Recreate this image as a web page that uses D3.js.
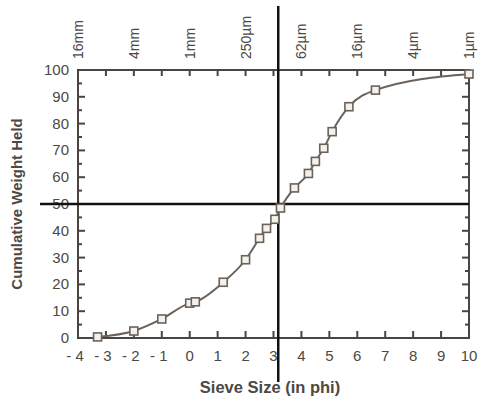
<!DOCTYPE html>
<html>
<head>
    <script src="https://d3js.org/d3.v7.min.js"></script>
    <style>
        body { margin: 0; background: #fff; }
        text { font-family: "Liberation Sans", Arial, sans-serif; fill: #4d4843; }
    </style>
</head>
<body>
    <script>
        // sieve data
        var phi = [-3.3, -2.0, -1.0, 0.0, 0.2, 1.2, 2.0, 2.5, 2.75, 3.05, 3.25, 3.75, 4.25, 4.5, 4.8, 5.1, 5.7, 6.65, 10];
        var weight = [0.4, 2.6, 7.1, 13, 13.5, 20.8, 29.2, 37.2, 40.9, 44.3, 48.5, 56, 61.4, 65.9, 70.8, 77, 86.3, 92.5, 98.5];
        var xTicks = [-4, -3, -2, -1, 0, 1, 2, 3, 4, 5, 6, 7, 8, 9, 10];
        var yTicks = [0, 10, 20, 30, 40, 50, 60, 70, 80, 90, 100];
        var sizeTicks = [-4, -2, 0, 2, 4, 6, 8, 10];
        var sizeLabels = ["16mm", "4mm", "1mm", "250µm", "62µm", "16µm", "4µm", "1µm"];
        var medianPhi = 3.17;

        var width = 481, height = 397;
        var plotL = 78, plotR = 469, plotT = 70, plotB = 338;
        var axisColor = "#4a4540";

        var svg = d3.select("body").append("svg")
            .attr("width", width)
            .attr("height", height);

        var x = d3.scaleLinear().domain([-4, 10]).range([plotL, plotR]);
        var y = d3.scaleLinear().domain([0, 100]).range([plotB, plotT]);

        // frame
        svg.append("rect")
            .attr("x", plotL).attr("y", plotT)
            .attr("width", plotR - plotL).attr("height", plotB - plotT)
            .attr("fill", "none").attr("stroke", axisColor).attr("stroke-width", 2);

        // bottom ticks (pointing inward)
        svg.selectAll(".bt").data(xTicks.slice(1, -1)).enter().append("line")
            .attr("x1", d => x(d)).attr("x2", d => x(d))
            .attr("y1", plotB).attr("y2", plotB - 7)
            .attr("stroke", axisColor).attr("stroke-width", 2);
        // top ticks
        svg.selectAll(".tt").data(xTicks.slice(1, -1)).enter().append("line")
            .attr("x1", d => x(d)).attr("x2", d => x(d))
            .attr("y1", plotT).attr("y2", plotT + 6)
            .attr("stroke", axisColor).attr("stroke-width", 2);

        var yAll = d3.range(5, 100, 5);
        svg.selectAll(".lt").data(yAll).enter().append("line")
            .attr("x1", plotL).attr("x2", d => plotL + (d % 10 === 0 ? 7 : 4))
            .attr("y1", d => y(d)).attr("y2", d => y(d))
            .attr("stroke", axisColor).attr("stroke-width", 2);
        svg.selectAll(".rt").data(yAll).enter().append("line")
            .attr("x1", plotR).attr("x2", d => plotR - (d % 10 === 0 ? 7 : 4))
            .attr("y1", d => y(d)).attr("y2", d => y(d))
            .attr("stroke", axisColor).attr("stroke-width", 2);

        // tick labels
        svg.selectAll(".yl").data(yTicks).enter().append("text")
            .attr("x", plotL - 9).attr("y", d => y(d) + 5)
            .attr("text-anchor", "end").style("font-size", "15px")
            .text(d => d);
        svg.selectAll(".xl").data(xTicks).enter().append("text")
            .attr("x", d => x(d) + (d < 0 ? -3 : 0)).attr("y", 361)
            .attr("text-anchor", "middle").style("font-size", "15px")
            .text(d => d < 0 ? "- " + Math.abs(d) : d);
        svg.selectAll(".sl").data(sizeTicks).enter().append("text")
            .attr("transform", d => "translate(" + (x(d) + 5) + ",59) rotate(-90)")
            .style("font-size", "14px")
            .text((d, i) => sizeLabels[i]);

        // axis titles
        svg.append("text")
            .attr("transform", "translate(22," + y(50) + ") rotate(-90)")
            .attr("text-anchor", "middle")
            .style("font-size", "15px").style("font-weight", "bold")
            .text("Cumulative Weight Held");
        svg.append("text")
            .attr("x", 270).attr("y", 393)
            .attr("text-anchor", "middle")
            .style("font-size", "16.5px").style("font-weight", "bold")
            .text("Sieve Size (in phi)");

        // crosshair
        svg.append("line")
            .attr("x1", 40).attr("x2", plotR)
            .attr("y1", y(50)).attr("y2", y(50))
            .attr("stroke", "#111").attr("stroke-width", 2.5);
        svg.append("line")
            .attr("x1", x(medianPhi)).attr("x2", x(medianPhi))
            .attr("y1", 6).attr("y2", 382)
            .attr("stroke", "#111").attr("stroke-width", 2.5);

        // curve and markers
        var pts = phi.map((p, i) => [p, weight[i]]);
        var line = d3.line()
            .x(d => x(d[0])).y(d => y(d[1]))
            .curve(d3.curveMonotoneX);
        svg.append("path")
            .attr("d", line(pts))
            .attr("fill", "none").attr("stroke", "#6a625a").attr("stroke-width", 2);

        svg.selectAll(".pt").data(pts).enter().append("rect")
            .attr("x", d => x(d[0]) - 4).attr("y", d => y(d[1]) - 4)
            .attr("width", 8).attr("height", 8)
            .attr("fill", "#f4f1ea").attr("stroke", "#6a625a").attr("stroke-width", 1.6);
    </script>
</body>
</html>
